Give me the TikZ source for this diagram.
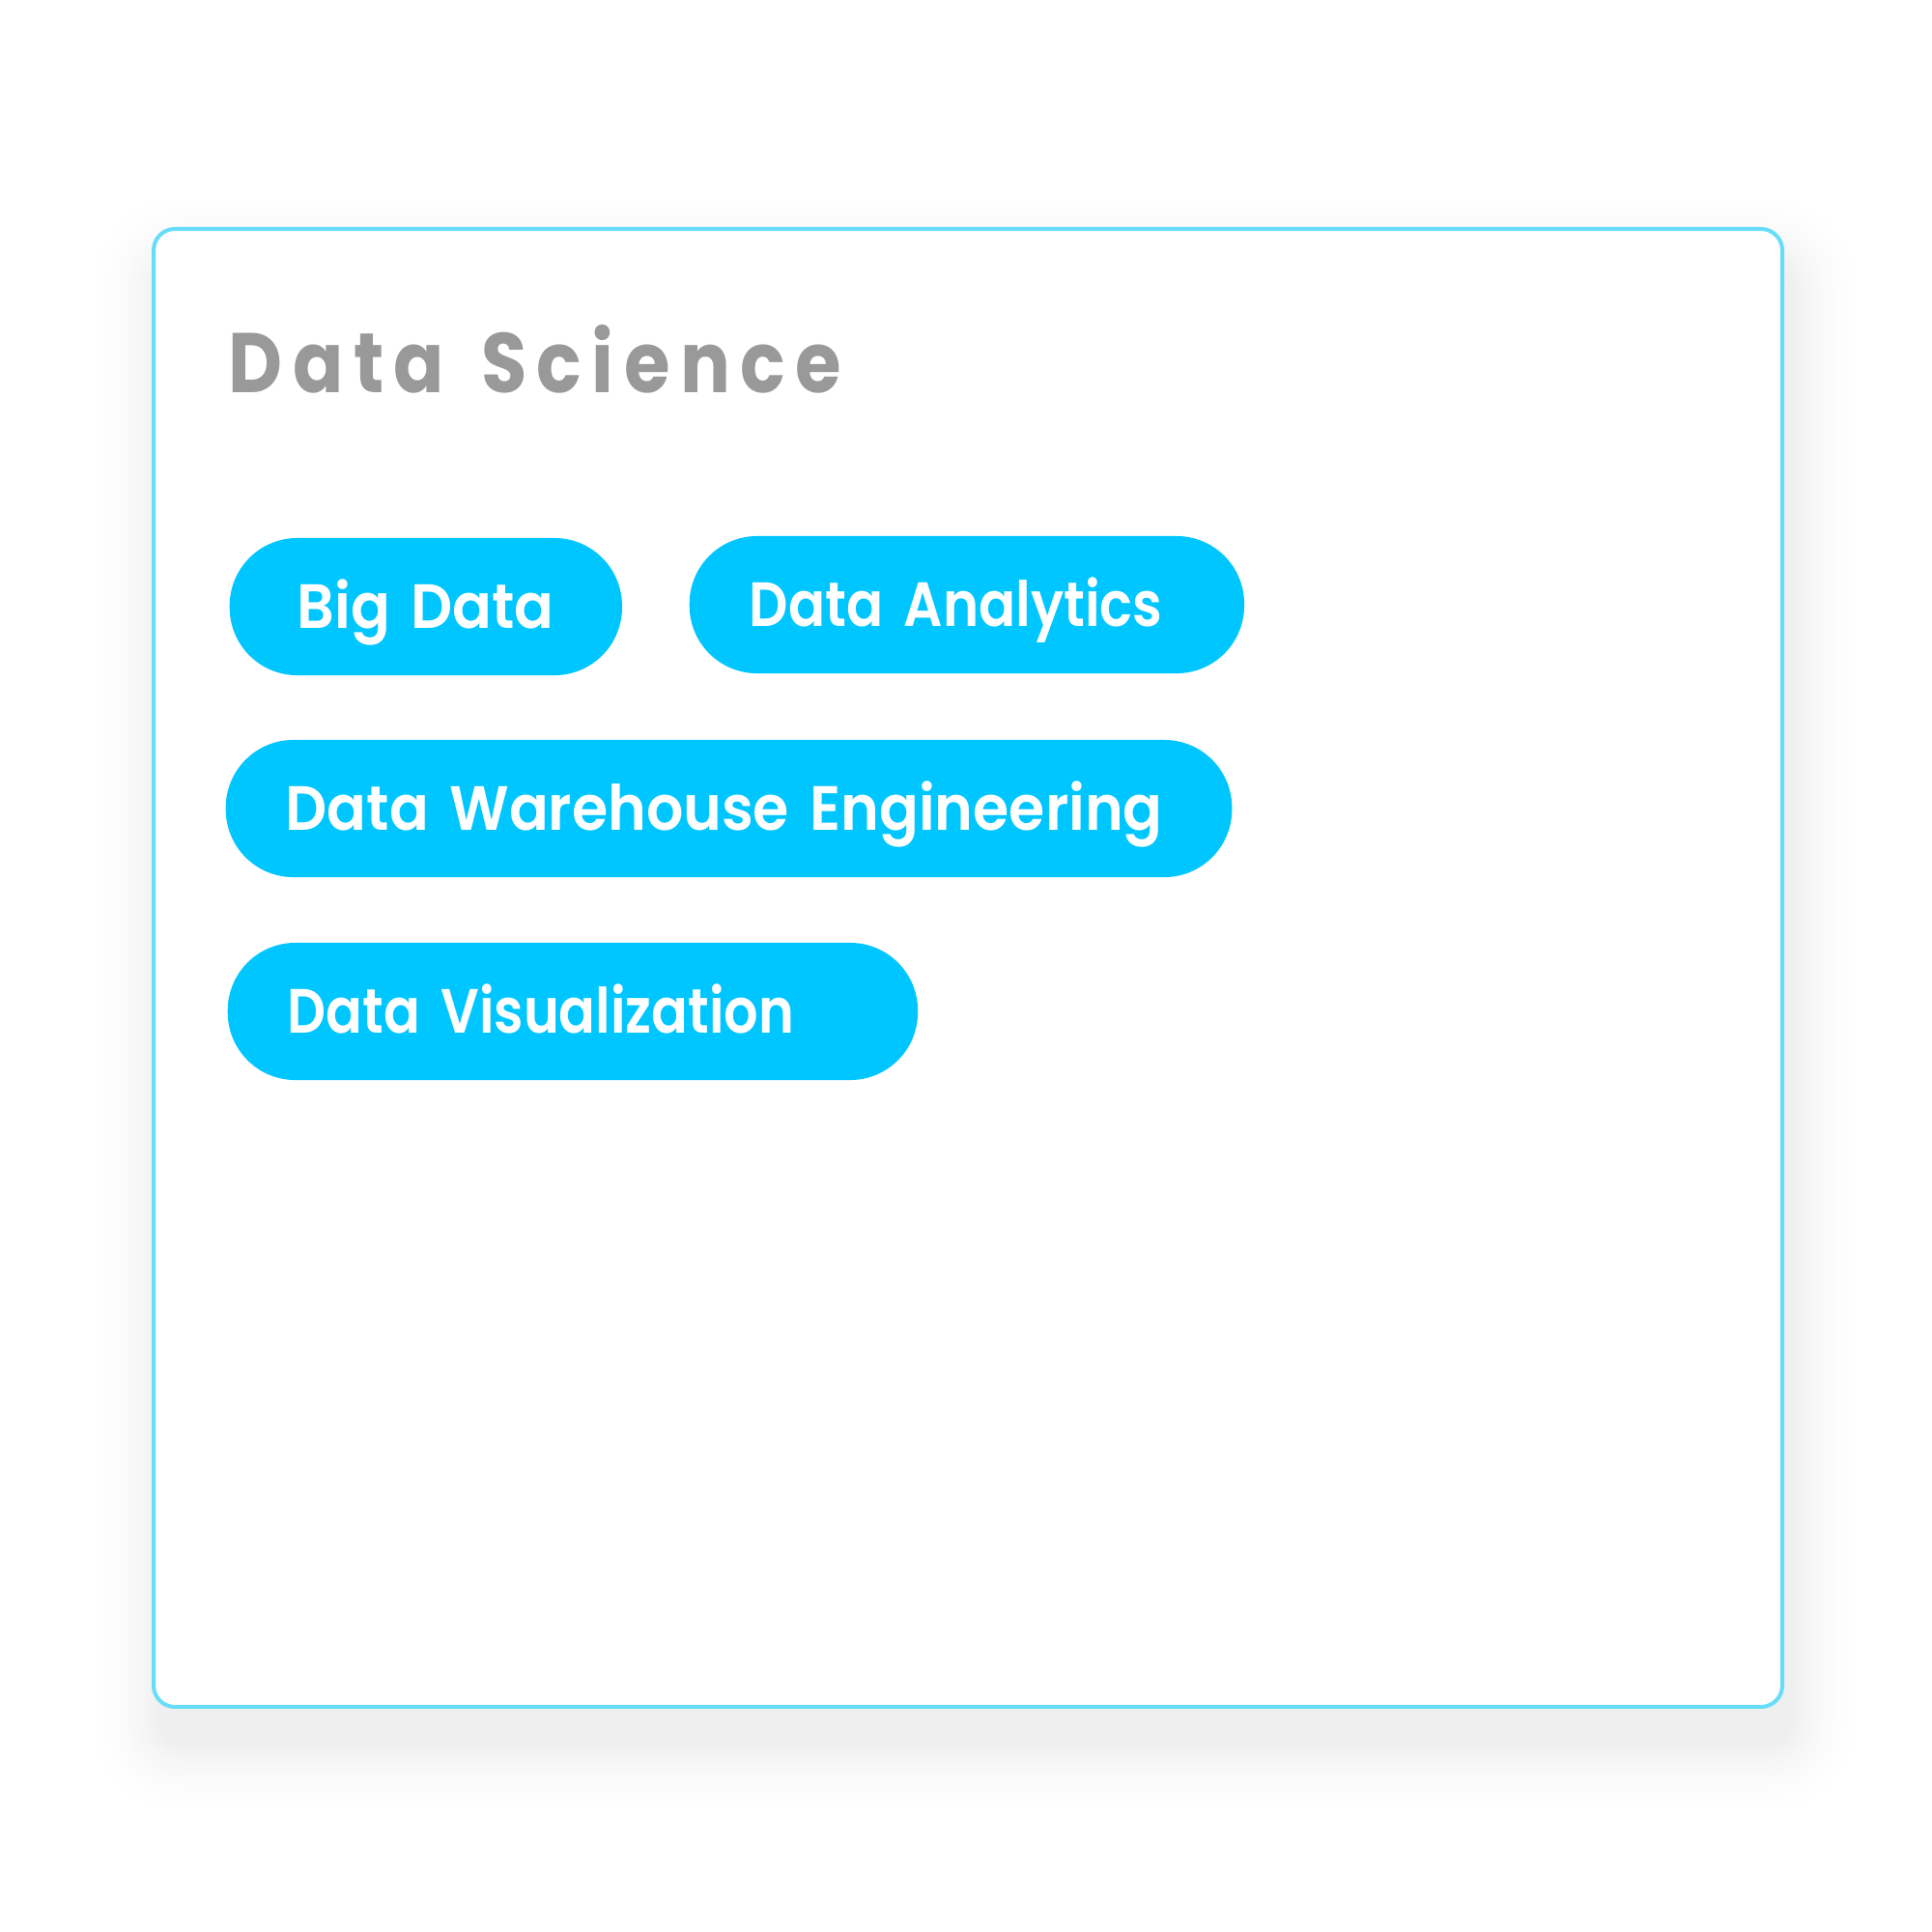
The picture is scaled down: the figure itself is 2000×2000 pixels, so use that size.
\documentclass[tikz,border=0pt]{standalone}
\usepackage{fontspec}
\setmainfont{Poppins}
\newfontfamily\titlefont{Poppins}[UprightFont=* Bold, LetterSpace=12, FakeStretch=0.88]
\newfontfamily\pillfont{Poppins}[UprightFont=* SemiBold]

\definecolor{pillblue}{RGB}{0,198,255}
\definecolor{frameblue}{RGB}{104,221,250}
\definecolor{titlegray}{RGB}{153,153,153}

\begin{document}
\begin{tikzpicture}[x=0.01cm,y=-0.01cm,
    card/.style={draw=frameblue, line width=1.15pt, fill=white,
      rounded corners=0.22cm, anchor=north west},
    pill/.style={fill=pillblue, text=white, rounded corners=0.7cm,
      minimum height=1.42cm, inner xsep=0.62cm, inner ysep=0pt,
      text height=0.45cm, text depth=0pt, align=left, anchor=west,
      font=\pillfont\fontsize{18.4}{20}\selectfont\addfontfeature{FakeStretch=#1}},
    pill/.default=0.93]
  \fill[white] (0,0) rectangle (2000,2000);
  \useasboundingbox (0,0) rectangle (2000,2000);

  % soft shadow under the card, outer rings first
  \foreach \i in {40,...,1} {
    \pgfmathsetmacro\r{0.22+0.02*\i}
    \pgfmathsetmacro\p{6.5*(1-\i/41)^2}
    \fill[black!\p!white, rounded corners=\r cm]
      (167-2*\i,275-2*\i) rectangle (1852+2*\i,1804+2*\i);
  }

  % card with its title
  \node[card, minimum width=16.85cm, minimum height=15.29cm] (card) at (157,235) {};
  \node[anchor=base west, inner sep=0pt, text=titlegray,
    font=\titlefont\fontsize{24.9}{28}\selectfont] (title) at (236,406) {Data\hspace{0.11cm} Science};

  % tags
  \node[pill, inner xsep=0.70cm, text width=2.66cm] (bigdata) at (237,628) {\mbox{Big Data}};
  \node[pill=0.87, text width=4.50cm] (analytics) at (713,626) {\mbox{Data Analytics}};
  \node[pill, text width=9.17cm] (warehouse) at (233,837) {\mbox{Data Warehouse Engineering}};
  \node[pill=0.862, text width=5.90cm] (visual) at (235,1047) {\mbox{Data Visualization}};
\end{tikzpicture}
\end{document}
